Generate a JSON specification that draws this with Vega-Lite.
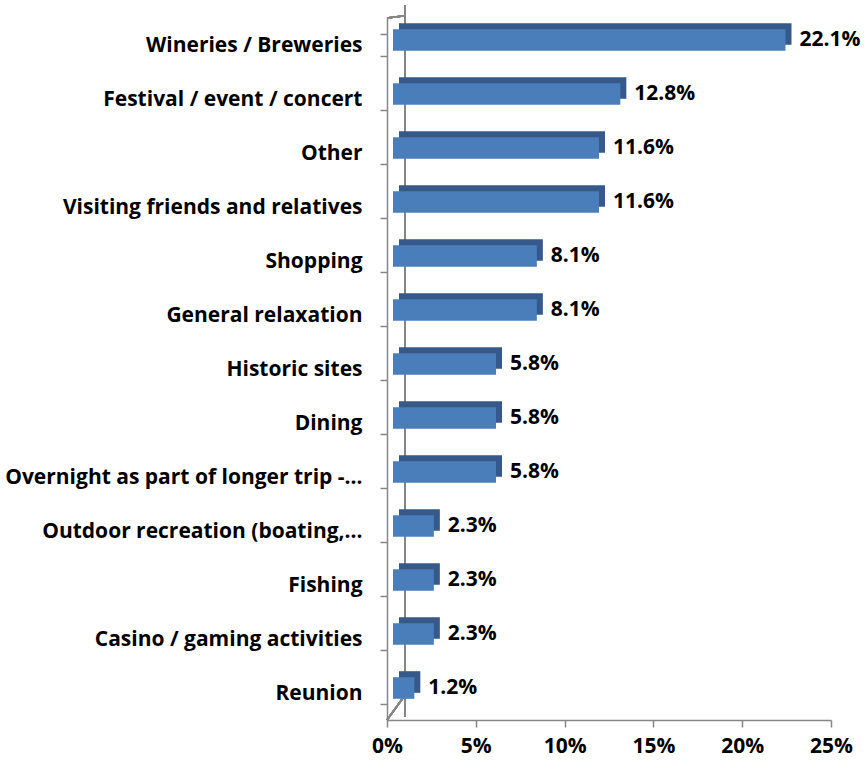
{
  "$schema": "https://vega.github.io/schema/vega-lite/v6.json",
  "width": 444,
  "height": 702,
  "autosize": "none",
  "padding": {"left": 387, "top": 18, "right": 34, "bottom": 46},
  "background": "white",
  "config": {
    "view": {"stroke": null},
    "font": "Open Sans"
  },
  "data": {
    "values": [
      {"activity": "Wineries / Breweries", "share": 0.221},
      {"activity": "Festival / event / concert", "share": 0.128},
      {"activity": "Other", "share": 0.116},
      {"activity": "Visiting friends and relatives", "share": 0.116},
      {"activity": "Shopping", "share": 0.081},
      {"activity": "General relaxation", "share": 0.081},
      {"activity": "Historic sites", "share": 0.058},
      {"activity": "Dining", "share": 0.058},
      {"activity": "Overnight as part of longer trip -…", "share": 0.058},
      {"activity": "Outdoor recreation (boating,…", "share": 0.023},
      {"activity": "Fishing", "share": 0.023},
      {"activity": "Casino / gaming activities", "share": 0.023},
      {"activity": "Reunion", "share": 0.012}
    ]
  },
  "encoding": {
    "y": {
      "field": "activity",
      "type": "nominal",
      "sort": null,
      "scale": {
        "domain": ["Wineries / Breweries", "Festival / event / concert", "Other", "Visiting friends and relatives", "Shopping", "General relaxation", "Historic sites", "Dining", "Overnight as part of longer trip -…", "Outdoor recreation (boating,…", "Fishing", "Casino / gaming activities", "Reunion"],
        "paddingInner": 0.6,
        "paddingOuter": 0.3
      },
      "axis": {
        "title": null,
        "domainColor": "#868686",
        "domainWidth": 1.5,
        "tickColor": "#868686",
        "tickWidth": 1.5,
        "tickSize": 7,
        "tickBand": "extent",
        "labelFont": "Open Sans",
        "labelFontWeight": "bold",
        "labelFontSize": 21,
        "labelColor": "#000000",
        "labelPadding": 18,
        "labelLimit": 420
      }
    }
  },
  "layer": [
    {
      "mark": {"type": "rule", "color": "#868686", "strokeWidth": 1.5, "yOffset": -29.2, "y2Offset": 23.8},
      "encoding": {
        "x": {"datum": 0.0101, "type": "quantitative"},
        "y": {"datum": "Wineries / Breweries", "type": "nominal", "bandPosition": 0},
        "y2": {"datum": "Reunion"}
      }
    },
    {
      "mark": {"type": "rule", "color": "#868686", "strokeWidth": 1.5, "yOffset": -16.2, "y2Offset": -29.2},
      "encoding": {
        "x": {"datum": 0, "type": "quantitative"},
        "x2": {"datum": 0.0101},
        "y": {"datum": "Wineries / Breweries", "type": "nominal", "bandPosition": 0},
        "y2": {"datum": "Wineries / Breweries"}
      }
    },
    {
      "mark": {"type": "rule", "color": "#868686", "strokeWidth": 1.5, "yOffset": 16.2, "y2Offset": 2.2},
      "encoding": {
        "x": {"datum": 0, "type": "quantitative"},
        "x2": {"datum": 0.0101},
        "y": {"datum": "Reunion", "type": "nominal", "bandPosition": 1},
        "y2": {"datum": "Reunion"}
      }
    },
    {
      "mark": {"type": "bar", "color": "#36598a", "xOffset": 12, "x2Offset": 12, "yOffset": -11, "y2Offset": -11},
      "encoding": {
        "x": {
          "field": "share",
          "type": "quantitative",
          "scale": {"domain": [0, 0.25], "nice": false},
          "axis": {
            "title": null,
            "values": [0, 0.05, 0.1, 0.15, 0.2, 0.25],
            "format": ".0%",
            "grid": false,
            "domainColor": "#868686",
            "domainWidth": 1.5,
            "tickColor": "#868686",
            "tickWidth": 1.5,
            "tickSize": 7,
            "labelFont": "Open Sans",
            "labelFontWeight": "bold",
            "labelFontSize": 21,
            "labelColor": "#000000",
            "labelPadding": 8,
            "labelFlush": false
          }
        }
      }
    },
    {
      "mark": {"type": "bar", "color": "#4a7ebb", "xOffset": 6, "x2Offset": 6, "yOffset": -5, "y2Offset": -5},
      "encoding": {"x": {"field": "share", "type": "quantitative"}}
    },
    {
      "mark": {"type": "text", "align": "left", "baseline": "middle", "dx": 20, "dy": -5, "font": "Open Sans", "fontWeight": "bold", "fontSize": 21, "color": "#000000"},
      "encoding": {
        "x": {"field": "share", "type": "quantitative"},
        "text": {"field": "share", "type": "quantitative", "format": ".1%"}
      }
    }
  ]
}
